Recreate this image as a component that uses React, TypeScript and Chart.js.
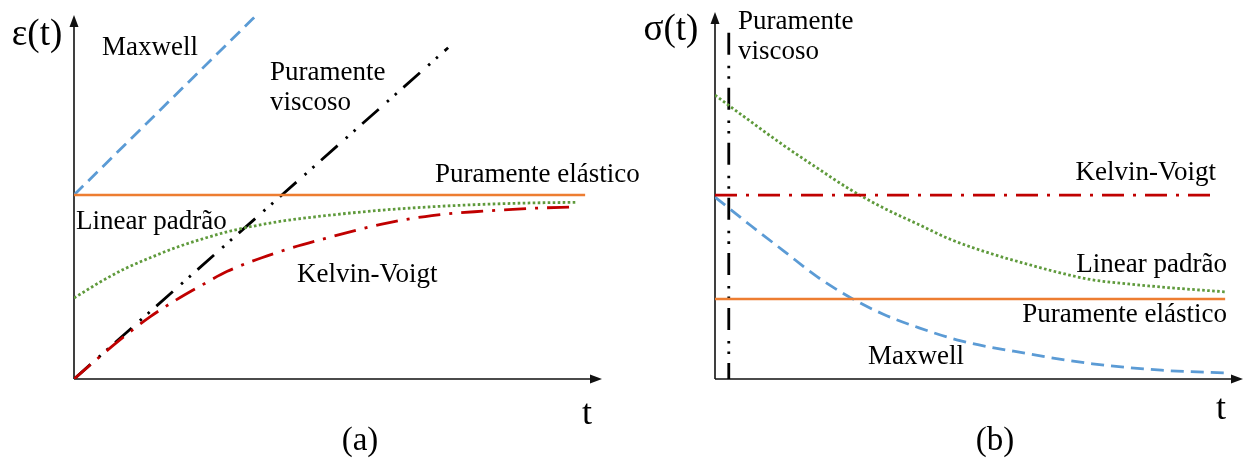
import React, { useEffect, useRef } from "react";
import { Chart, registerables } from "chart.js";
Chart.register(...registerables);

const FONT = '"Liberation Serif", "Times New Roman", serif';
const W = 1246;
const H = 469;

// ---------- Panel (a): strain ε(t) ----------
const tElasticA = [0, 10];
const epsElastic = [1, 1];
const tMaxwellA = [0, 3.58];
const epsMaxwell = [1, 1.98];
const tViscousA = [0, 7.32];
const epsViscous = [0, 1.8];
const tLinearA = [0, 0.5, 1, 1.5, 2, 2.5, 3, 4, 5, 6, 7, 8, 9, 9.85];
const epsLinear = [0.44, 0.525, 0.6, 0.66, 0.715, 0.76, 0.8, 0.855, 0.89, 0.917, 0.936, 0.949, 0.957, 0.96];
const tKelvinA = [0, 0.5, 1, 1.5, 2, 2.5, 3, 4, 5, 6, 7, 8, 9, 9.8];
const epsKelvin = [0, 0.12, 0.235, 0.34, 0.43, 0.51, 0.585, 0.69, 0.77, 0.84, 0.888, 0.912, 0.928, 0.935];

// ---------- Panel (b): stress σ(t) ----------
const tElasticB = [0, 10];
const sigElastic = [1, 1];
const tKelvinB = [0, 9.86];
const sigKelvin = [2.3, 2.3];
const tViscousB = [0.27, 0.27];
const sigViscous = [4.33, 0];
const tLinearB = [0, 0.7, 1.35, 2, 2.65, 3.3, 4, 4.6, 5.45, 6.1, 6.75, 7.4, 8.1, 8.75, 10];
const sigLinear = [3.55, 3.22, 2.92, 2.64, 2.37, 2.14, 1.93, 1.75, 1.56, 1.44, 1.33, 1.24, 1.19, 1.15, 1.09];
const tMaxwellB = [0, 0.7, 1.35, 2, 2.65, 3.3, 4, 4.8, 6.1, 7.4, 8.75, 10];
const sigMaxwell = [2.275, 1.92, 1.6, 1.28, 1.02, 0.81, 0.64, 0.48, 0.32, 0.19, 0.11, 0.075];

const COLORS = {
  maxwell: "#5B9BD5",
  elastic: "#ED7D31",
  linear: "#5F9A3C",
  kelvin: "#C00000",
  viscous: "#000000",
};

const DASH = {
  maxwell: [13, 7],
  linear: [2.6, 2.4],
  kelvin: [22, 9, 3, 9],
  viscous: [22, 11, 2.5, 8, 2.5, 9],
};

const zip = (xs: number[], ys: number[]) => xs.map((x, i) => ({ x, y: ys[i] }));

type Label = { text: string; x: number; y: number; size: number; align: CanvasTextAlign };

const labelsA: Label[] = [
  { text: "ε(t)", x: 37, y: 35, size: 37, align: "center" },
  { text: "Maxwell", x: 102, y: 48, size: 27, align: "left" },
  { text: "Puramente", x: 270, y: 73, size: 27, align: "left" },
  { text: "viscoso", x: 270, y: 103, size: 27, align: "left" },
  { text: "Puramente elástico", x: 435, y: 175, size: 27, align: "left" },
  { text: "Linear padrão", x: 76, y: 222, size: 27, align: "left" },
  { text: "Kelvin-Voigt", x: 297, y: 275, size: 27, align: "left" },
  { text: "t", x: 587, y: 415, size: 36, align: "center" },
  { text: "(a)", x: 360, y: 441, size: 33, align: "center" },
];

const labelsB: Label[] = [
  { text: "σ(t)", x: 671, y: 30, size: 37, align: "center" },
  { text: "Puramente", x: 738, y: 22, size: 27, align: "left" },
  { text: "viscoso", x: 738, y: 52, size: 27, align: "left" },
  { text: "Kelvin-Voigt", x: 1216, y: 173, size: 27, align: "right" },
  { text: "Linear padrão", x: 1227, y: 265, size: 27, align: "right" },
  { text: "Puramente elástico", x: 1227, y: 315, size: 27, align: "right" },
  { text: "Maxwell", x: 868, y: 357, size: 27, align: "left" },
  { text: "t", x: 1221, y: 410, size: 36, align: "center" },
  { text: "(b)", x: 995, y: 441, size: 33, align: "center" },
];

function makeDecor(labels: Label[]) {
  return {
    id: "decor",
    beforeDatasetsDraw(chart: any) {
      const { ctx, chartArea } = chart;
      const { left, right, top, bottom } = chartArea;
      ctx.save();
      ctx.strokeStyle = "#111";
      ctx.fillStyle = "#111";
      ctx.lineWidth = 1.6;
      ctx.beginPath();
      ctx.moveTo(left, bottom);
      ctx.lineTo(left, top + 8);
      ctx.moveTo(left, bottom);
      ctx.lineTo(right - 8, bottom);
      ctx.stroke();
      ctx.beginPath();
      ctx.moveTo(left, top);
      ctx.lineTo(left - 4.5, top + 12);
      ctx.lineTo(left + 4.5, top + 12);
      ctx.closePath();
      ctx.fill();
      ctx.beginPath();
      ctx.moveTo(right, bottom);
      ctx.lineTo(right - 12, bottom - 4.5);
      ctx.lineTo(right - 12, bottom + 4.5);
      ctx.closePath();
      ctx.fill();
      ctx.restore();
    },
    afterDraw(chart: any) {
      const { ctx } = chart;
      ctx.save();
      ctx.fillStyle = "#000";
      ctx.textBaseline = "middle";
      labels.forEach((l) => {
        ctx.font = `${l.size}px ${FONT}`;
        ctx.textAlign = l.align;
        ctx.fillText(l.text, l.x, l.y);
      });
      ctx.restore();
    },
  };
}

function ds(label: string, data: { x: number; y: number }[], color: string, dash: number[] = [], width = 2.8) {
  return {
    label,
    data,
    borderColor: color,
    backgroundColor: color,
    borderWidth: width,
    borderDash: dash,
    borderCapStyle: "butt" as const,
    cubicInterpolationMode: "monotone" as const,
    pointRadius: 0,
    fill: false,
  };
}

function baseOptions(xmax: number, ymax: number, padding: any) {
  return {
    animation: false as const,
    responsive: false,
    maintainAspectRatio: false,
    layout: { padding },
    plugins: { legend: { display: false }, tooltip: { enabled: false } },
    scales: {
      x: { type: "linear" as const, min: 0, max: xmax, display: false },
      y: { type: "linear" as const, min: 0, max: ymax, display: false },
    },
  };
}

export default function App() {
  const refA = useRef<HTMLCanvasElement>(null);
  const refB = useRef<HTMLCanvasElement>(null);

  useEffect(() => {
    const chartA = new Chart(refA.current as HTMLCanvasElement, {
      type: "line",
      data: {
        datasets: [
          ds("Puramente elástico", zip(tElasticA, epsElastic), COLORS.elastic, [], 2.5),
          ds("Maxwell", zip(tMaxwellA, epsMaxwell), COLORS.maxwell, DASH.maxwell),
          ds("Linear padrão", zip(tLinearA, epsLinear), COLORS.linear, DASH.linear),
          ds("Kelvin-Voigt", zip(tKelvinA, epsKelvin), COLORS.kelvin, DASH.kelvin),
          ds("Puramente viscoso", zip(tViscousA, epsViscous), COLORS.viscous, DASH.viscous),
        ],
      },
      options: baseOptions(10.33, 1.978, { left: 74, right: W - 602, top: 15, bottom: H - 379 }) as any,
      plugins: [makeDecor(labelsA)],
    });
    const chartB = new Chart(refB.current as HTMLCanvasElement, {
      type: "line",
      data: {
        datasets: [
          ds("Puramente elástico", zip(tElasticB, sigElastic), COLORS.elastic, [], 2.5),
          ds("Kelvin-Voigt", zip(tKelvinB, sigKelvin), COLORS.kelvin, DASH.kelvin),
          ds("Linear padrão", zip(tLinearB, sigLinear), COLORS.linear, DASH.linear),
          ds("Maxwell", zip(tMaxwellB, sigMaxwell), COLORS.maxwell, DASH.maxwell),
          ds("Puramente viscoso", zip(tViscousB, sigViscous), COLORS.viscous, DASH.viscous),
        ],
      },
      options: baseOptions(10.35, 4.59, { left: 715, right: W - 1243, top: 12, bottom: H - 379 }) as any,
      plugins: [makeDecor(labelsB)],
    });
    return () => {
      chartA.destroy();
      chartB.destroy();
    };
  }, []);

  return (
    <div style={{ position: "fixed", left: 0, top: 0, width: W, height: H, background: "#fff" }}>
      <canvas ref={refA} width={W} height={H} style={{ position: "absolute", left: 0, top: 0, width: W, height: H }} />
      <canvas ref={refB} width={W} height={H} style={{ position: "absolute", left: 0, top: 0, width: W, height: H }} />
    </div>
  );
}
